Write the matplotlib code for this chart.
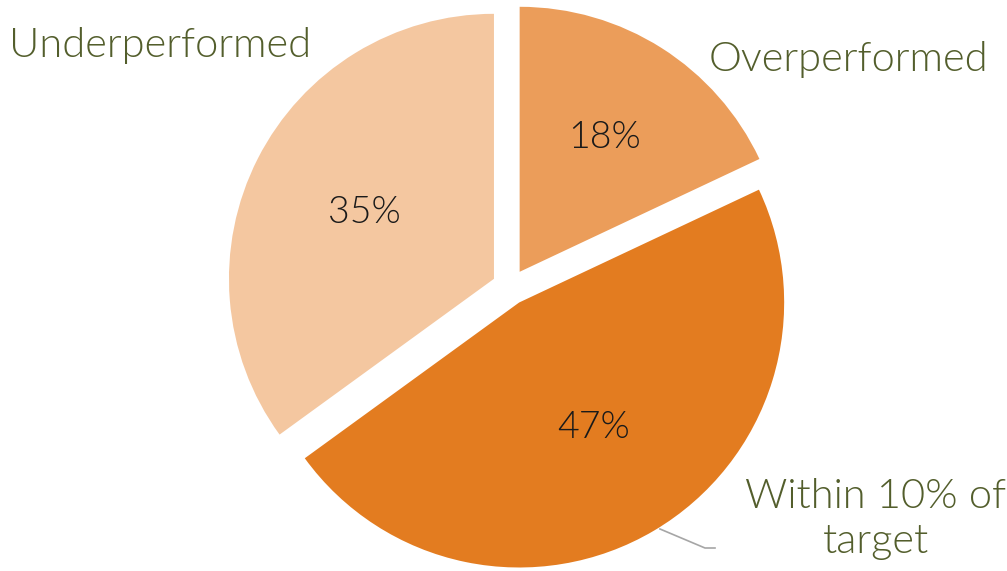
import math
import matplotlib.pyplot as plt

# Performance split
categories = ['Overperformed', 'Within 10% of\ntarget', 'Underperformed']
shares = [18, 47, 35]
colors = ['#EB9D5A', '#E37C20', '#F4C7A0']

label_color = '#535E2C'

fig = plt.figure(figsize=(10.07, 5.71), dpi=100)
ax = fig.add_axes([0, 0, 1, 1])

wedges, texts, autotexts = ax.pie(
    shares,
    colors=colors,
    startangle=90,
    counterclock=False,
    center=(510, 284),
    radius=265,
    explode=[18, 18, 18],
    autopct='%d%%',
    pctdistance=0.55,
    frame=True,
    textprops={'fontsize': 27, 'color': '#1a1a1a', 'family': 'Lato',
               'weight': 300},
    wedgeprops={'linewidth': 0},
)
ax.set_xlim(0, 1007)
ax.set_ylim(0, 571)
ax.set_axis_off()

# push the small slice's percentage a bit further out
w = wedges[0]
mid = math.radians((w.theta1 + w.theta2) / 2)
autotexts[0].set_position((w.center[0] + 0.6 * w.r * math.cos(mid),
                           w.center[1] + 0.6 * w.r * math.sin(mid)))

# category labels sitting outside the pie
label_pos = [(848, 511), (876, 52), (160, 526)]
for name, (x, y) in zip(categories, label_pos):
    ax.text(x, y, name, ha='center', va='center', fontsize=30,
            color=label_color, family='Lato', weight=300,
            linespacing=1.3)

# leader line for the bottom label
ax.plot([660, 705, 715], [42, 23, 23], color='#A6A6A6', lw=1.2)

fig.savefig('out.png', dpi=100)
